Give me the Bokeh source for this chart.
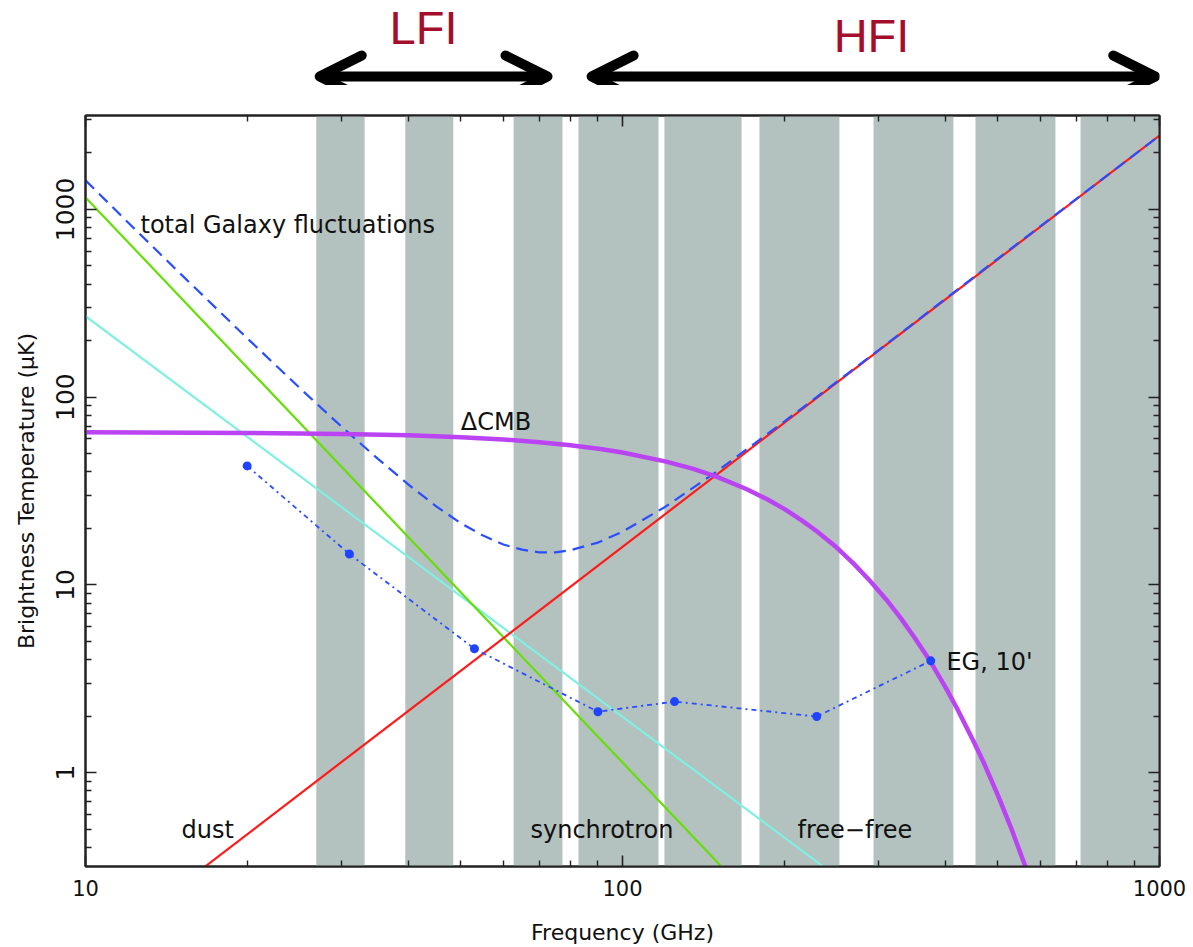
from bokeh.plotting import figure
from bokeh.models import (Range1d, LogAxis, FixedTicker, Arrow, OpenHead, NumeralTickFormatter,
                          CustomLabelingPolicy)
from bokeh.layouts import column
from bokeh.embed import file_html
from bokeh.resources import INLINE
from bokeh.core.properties import value

# ---------------- data ----------------
# Planck frequency channels (GHz): band edges
band_lo = [26.9, 39.4, 62.7, 82.8, 119.7, 179.9, 293.4, 454.3, 712.8]
band_hi = [33.1, 48.4, 77.3, 116.7, 166.6, 253.5, 413.2, 640.0, 1000.0]

# instrument frequency coverage (GHz)
lfi_range = [27.3, 72.5]
hfi_range = [87.6, 982.0]
instrument_names = ["LFI", "HFI"]
instrument_label_freq = [42.6, 290.9]

# synchrotron (power law, endpoints)
sync_f = [10.0, 152.2]
sync_T = [1158.0, 0.32]

# free-free (power law, endpoints)
ff_f = [10.0, 236.6]
ff_T = [270.0, 0.316]

# dust (power law, endpoints)
dust_f = [16.7, 1000.0]
dust_T = [0.316, 2474.0]

# total Galaxy fluctuations
tot_f = [10, 12, 15, 20, 25, 30, 35, 40, 45, 50, 55, 60, 65, 70, 75, 80, 90, 100, 120, 150, 200, 300,
         400, 500, 1000]
tot_T = [1428, 852, 456, 206, 112.5, 69.5, 47.0, 34.1, 26.2, 21.3, 18.3, 16.4, 15.4, 14.9, 14.9, 15.3,
         16.8, 19.2, 26.0, 40.3, 74.1, 178, 335, 546, 2474]

# Delta CMB
cmb_f = [10, 20, 30, 40, 50, 60, 70, 80, 91, 100, 120, 135, 150, 170, 186, 200, 215, 230, 250, 270,
         290, 310, 330, 350, 375, 400, 420, 450, 470, 500, 530, 570]
cmb_T = [65.0, 64.5, 63.7, 62.6, 61.1, 59.5, 57.5, 55.4, 52.9, 50.7, 45.5, 41.6, 37.6, 32.4, 28.6,
         25.4, 22.2, 19.3, 15.9, 12.9, 10.4, 8.34, 6.63, 5.23, 3.88, 2.83, 2.19, 1.48, 1.14, 0.758,
         0.502, 0.286]

# extragalactic sources, 10'
eg_f = [20, 31, 53, 90, 125, 230, 375]
eg_T = [43, 14.6, 4.57, 2.11, 2.39, 1.99, 3.94]

# curve labels
label_text = ["total Galaxy fluctuations", "\u0394CMB", "dust", "synchrotron", "free\u2212free", "EG, 10'"]
label_f = [12.66, 50.0, 15.1, 67.4, 211.8, 401.0]
label_T = [822.0, 73.6, 0.497, 0.497, 0.497, 3.9]

x_major = [10, 100, 1000]
x_minor = [m * 10 ** k for k in (1, 2) for m in range(2, 10)]
y_major = [1, 10, 100, 1000]
y_minor = [m * 10 ** k for k in (-1, 0, 1, 2, 3) for m in range(2, 10)]

FONT = "DejaVu Sans"
XMIN, XMAX = 10, 1000
YMIN, YMAX = 10 ** -0.5, 10 ** 3.5

# ---------------- main plot ----------------
x_range = Range1d(XMIN, XMAX)
p = figure(width=1193, height=862, x_axis_type="log", y_axis_type="log",
           x_range=x_range, y_range=Range1d(YMIN, YMAX),
           output_backend="svg", toolbar_location=None,
           min_border_left=85, min_border_right=34, min_border_top=30, min_border_bottom=81)
p.grid.visible = False
p.outline_line_color = "#222222"
p.outline_line_width = 2
p.background_fill_color = "white"
p.border_fill_color = "white"

# channel bands
p.quad(left=band_lo, right=band_hi, bottom=[YMIN] * len(band_lo), top=[YMAX] * len(band_lo),
       fill_color="#b3c1bf", line_color=None)

# curves
p.line(ff_f, ff_T, line_color="#7ff0e2", line_width=2.2)
p.line(sync_f, sync_T, line_color="#66de08", line_width=2.2)
p.line(dust_f, dust_T, line_color="#ff1a1a", line_width=2.2)
p.line(tot_f, tot_T, line_color="#2a4dff", line_width=2.2, line_dash="12 7")
p.line(cmb_f, cmb_T, line_color="#bb44f2", line_width=4.5)
p.line(eg_f, eg_T, line_color="#2a4dff", line_width=1.8, line_dash="5 4 2 4")
p.scatter(eg_f, eg_T, marker="circle", size=9, fill_color="#1f44ff", line_color=None)

p.text(x=label_f, y=label_T, text=label_text, text_font=value(FONT), text_font_size="24px",
       text_align="left", text_baseline="middle", text_color="#111111")

hide_labels = CustomLabelingPolicy(code="""
try {
  for (let i = 0; i < indices.size; i++) { indices.unset(i) }
} catch (e) {}
return indices
""")

# axes
def style_axis(ax, major, minor, show_labels):
    ax.ticker = FixedTicker(ticks=major, minor_ticks=minor)
    ax.major_tick_in = 11
    ax.major_tick_out = 0
    ax.minor_tick_in = 6
    ax.minor_tick_out = 0
    ax.axis_line_color = "#222222"
    ax.axis_line_width = 2
    ax.major_tick_line_color = "#222222"
    ax.major_tick_line_width = 1.6
    ax.minor_tick_line_color = "#222222"
    ax.minor_tick_line_width = 1.4
    ax.major_label_text_font = FONT
    ax.major_label_text_color = "#111111"
    ax.formatter = NumeralTickFormatter(format="0")
    if not show_labels:
        ax.major_label_policy = hide_labels
        ax.major_label_standoff = 0
        ax.major_label_text_font_size = "1px"

xa = p.xaxis[0]
style_axis(xa, x_major, x_minor, True)
xa.major_label_text_font_size = "21px"
xa.major_label_standoff = 13
xa.axis_label = "Frequency (GHz)"
xa.axis_label_text_font = FONT
xa.axis_label_text_font_style = "normal"
xa.axis_label_text_font_size = "22px"
xa.axis_label_standoff = 21
xa.axis_label_text_color = "#111111"

ya = p.yaxis[0]
style_axis(ya, y_major, y_minor, True)
ya.major_label_text_font_size = "25px"
ya.major_label_orientation = "vertical"
ya.major_label_standoff = 12
ya.axis_label = "Brightness Temperature (\u03bcK)"
ya.axis_label_text_font = FONT
ya.axis_label_text_font_style = "normal"
ya.axis_label_text_font_size = "22px"
ya.axis_label_standoff = 14
ya.axis_label_text_color = "#111111"

top_ax = LogAxis()
style_axis(top_ax, x_major, x_minor, False)
p.add_layout(top_ax, "above")
right_ax = LogAxis()
style_axis(right_ax, y_major, y_minor, False)
p.add_layout(right_ax, "right")

# ---------------- instrument arrows (above the plot) ----------------
t = figure(width=1193, height=85, x_axis_type="log", x_range=x_range, y_range=Range1d(85, 0),
           x_axis_location=None, y_axis_location=None, toolbar_location=None, output_backend="svg",
           min_border_left=85, min_border_right=34, min_border_top=0, min_border_bottom=0)
t.grid.visible = False
t.outline_line_color = None
t.background_fill_color = "white"
t.border_fill_color = "white"

for rng in (lfi_range, hfi_range):
    head_kw = dict(size=42, line_width=10, line_color="black", line_cap="round", line_join="round")
    t.add_layout(Arrow(x_start=rng[0], y_start=76, x_end=rng[1], y_end=76,
                       line_width=10, line_color="black",
                       start=OpenHead(**head_kw), end=OpenHead(**head_kw)))

t.text(x=instrument_label_freq, y=[27, 35], text=instrument_names, text_font=value("Liberation Sans"),
       text_font_size="47px", text_align="center", text_baseline="middle", text_color="#a50d2c")

layout = column(t, p, spacing=0)
open("out.html", "w").write(file_html(layout, INLINE))
